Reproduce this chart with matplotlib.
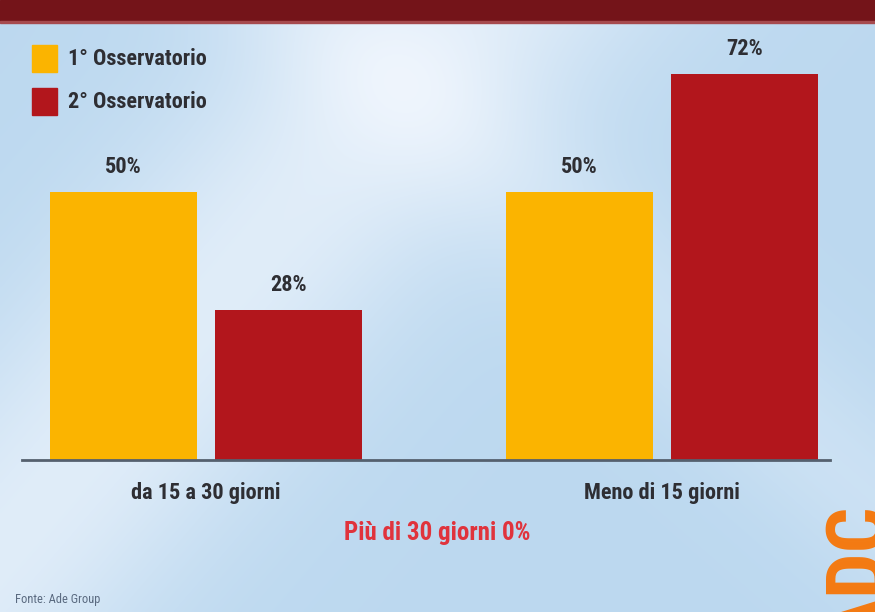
import numpy as np
import matplotlib
matplotlib.use("Agg")
import matplotlib.pyplot as plt
from matplotlib import font_manager

names = {f.name for f in font_manager.fontManager.ttflist}
cond = [n for n in ["Roboto Condensed", "DejaVu Sans Condensed", "Liberation Sans Narrow"] if n in names]
plt.rcParams["font.family"] = cond[:1] + ["DejaVu Sans"]
plt.rcParams["font.stretch"] = "condensed"

categories = ["da 15 a 30 giorni", "Meno di 15 giorni"]
series_names = ["1° Osservatorio", "2° Osservatorio"]
first_obs = [50, 50]
second_obs = [28, 72]
note = "Più di 30 giorni 0%"
source = "Fonte: Ade Group"

YELLOW = "#FBB400"
RED = "#B2161C"
TEXT = "#2e2e33"

W, H = 875, 612
fig = plt.figure(figsize=(W / 100, H / 100), dpi=100)

# soft blue background with a pale diagonal sheen
bg = fig.add_axes([0, 0, 1, 1])
yy, xx = np.mgrid[0:1:300j, 0:1:430j]
sheen = np.exp(-((xx - 0.45) + (yy - 0.15) * 0.6) ** 2 / 0.05) * 0.6
sheen += np.exp(-((xx - 0.75) - (yy - 0.5) * 0.8) ** 2 / 0.02) * 0.25
sheen = np.clip(sheen, 0, 1)
base = np.array([0.74, 0.85, 0.94])
white = np.array([0.97, 0.98, 1.0])
img = base[None, None, :] * (1 - sheen[..., None]) + white[None, None, :] * sheen[..., None]
bg.imshow(img, extent=[0, W, H, 0], aspect="auto", interpolation="bicubic")
bg.set_xlim(0, W)
bg.set_ylim(H, 0)
bg.axis("off")

# header band
bg.add_patch(plt.Rectangle((0, 0), W, 21, color="#741419", zorder=2))
bg.add_patch(plt.Rectangle((0, 21), W, 2, color="#a64a4e", zorder=2))

# logo letters running off the right edge
bg.text(884, 645, "ADC", rotation=90, rotation_mode="anchor", color="#F47A12",
        fontsize=58, fontweight="bold", ha="left", va="baseline", zorder=2,
        clip_on=True)

# legend squares
for i, (name, col) in enumerate(zip(series_names, [YELLOW, RED])):
    y0 = 45 + i * 43
    bg.add_patch(plt.Rectangle((32, y0), 25, 27, color=col, zorder=3))
    bg.text(68, y0 + 14, name, color=TEXT, fontsize=16, fontweight="bold",
            va="center", ha="left", zorder=3)

bg.text(437, 533, note, color="#E0333C", fontsize=18, fontweight="bold",
        ha="center", va="center", zorder=3)
bg.text(15, 600, source, color="#5a6a80", fontsize=9, ha="left", va="center", zorder=3)

# bar chart
ax = fig.add_axes([22 / W, (H - 460) / H, (830 - 22) / W, 428.8 / H])
ax.patch.set_alpha(0)
x = np.arange(len(categories))
bw, off = 0.322, 0.181
b1 = ax.bar(x - off, first_obs, bw, color=YELLOW, zorder=2)
b2 = ax.bar(x + off, second_obs, bw, color=RED, zorder=2)
for bars, vals in [(b1, first_obs), (b2, second_obs)]:
    for r, v in zip(bars, vals):
        ax.text(r.get_x() + r.get_width() / 2, v + 4.7, f"{v}%", ha="center",
                va="center", color=TEXT, fontsize=16, fontweight="bold")
ax.set_xlim(-0.4035, 1.368)
ax.set_ylim(0, 80)
ax.set_yticks([])
ax.set_xticks(x)
ax.set_xticklabels(categories, fontsize=16, fontweight="bold", color=TEXT)
ax.tick_params(axis="x", length=0, pad=16)
for s in ["top", "left", "right"]:
    ax.spines[s].set_visible(False)
ax.spines["bottom"].set_color("#55606e")
ax.spines["bottom"].set_linewidth(2)

fig.savefig("out.png", dpi=100)
